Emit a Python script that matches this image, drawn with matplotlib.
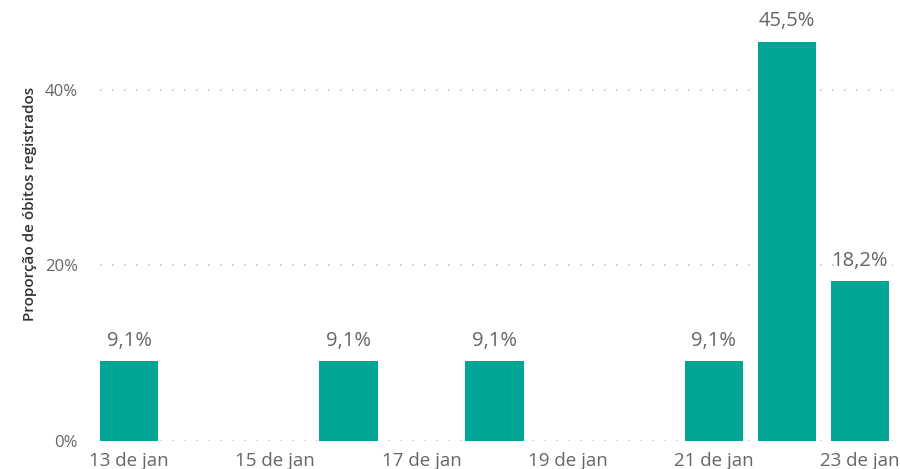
import matplotlib
matplotlib.use("Agg")
import matplotlib.pyplot as plt

plt.rcParams['font.family'] = ['Open Sans', 'DejaVu Sans']

# dias de janeiro com óbitos registrados
dias = [13, 16, 18, 21, 22, 23]
proporcao = [9.1, 9.1, 9.1, 9.1, 45.5, 18.2]
tick_dias = [13, 15, 17, 19, 21, 23]
tick_labels = [f"{d} de jan" for d in tick_dias]
y_ticks = [0, 20, 40]

cor_barra = '#01A596'
cor_texto = '#666666'

fig = plt.figure(figsize=(9, 4.69), dpi=100)
ax = fig.add_axes([0.111, 0.0597, 0.881, 0.936])

ax.bar(dias, proporcao, width=0.8, color=cor_barra, zorder=3)

for d, v in zip(dias, proporcao):
    ax.text(d, v + 1.2, f"{v:.1f}%".replace('.', ','), ha='center', va='bottom',
            fontsize=14.5, color=cor_texto)

ax.set_xlim(12.6, 23.45)
ax.set_ylim(0, 50)
ax.set_yticks(y_ticks)
ax.set_yticklabels([f"{t}%" for t in y_ticks])
ax.set_xticks(tick_dias)
ax.set_xticklabels(tick_labels)
ax.tick_params(axis='both', length=0, labelcolor=cor_texto)
ax.tick_params(axis='x', pad=8, labelsize=13.5)
ax.tick_params(axis='y', pad=16, labelsize=12)

ax.grid(axis='y', linestyle=(0, (1, 6.2)), color='#c8c8c8', linewidth=1.2, zorder=0)
for s in ax.spines.values():
    s.set_visible(False)

ax.set_ylabel("Proporção de óbitos registrados", fontsize=11, fontweight='semibold',
              color='#333333')
ax.yaxis.set_label_coords(-0.079, 0.54)

fig.savefig("out.png", dpi=100)
